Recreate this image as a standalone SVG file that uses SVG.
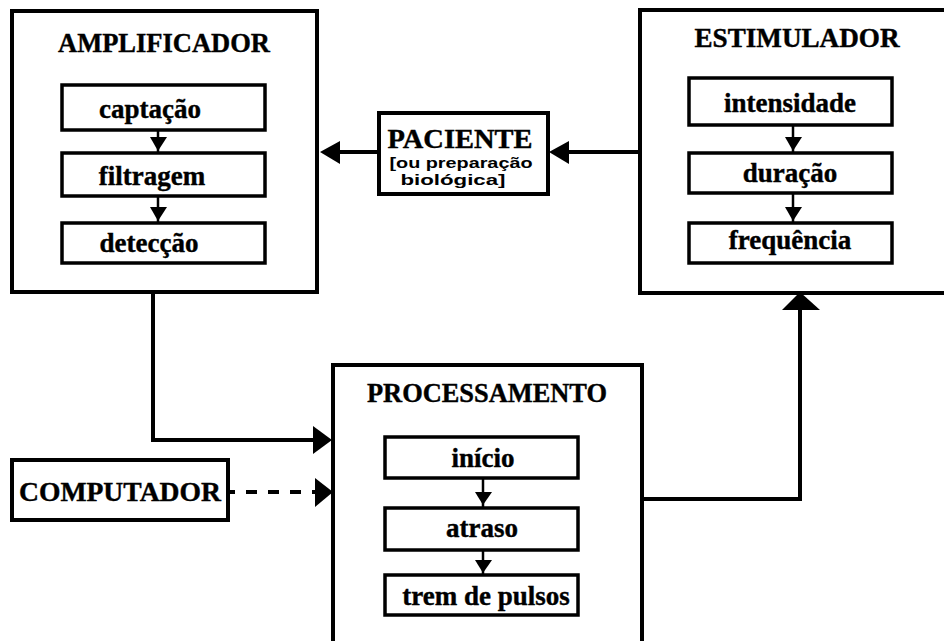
<svg xmlns="http://www.w3.org/2000/svg" width="944" height="641" viewBox="0 0 944 641">
<style>
.outer{fill:#fff;stroke:#000;stroke-width:4}
.inner{fill:#fff;stroke:#000;stroke-width:3.5}
.title{font-family:"Liberation Serif","Times New Roman",serif;font-weight:bold;font-size:27px;text-anchor:middle;fill:#000;stroke:#000;stroke-width:0.4}
.lab{font-family:"Liberation Serif","Times New Roman",serif;font-weight:bold;font-size:27px;text-anchor:middle;fill:#000;stroke:#000;stroke-width:0.4}
.sans{font-family:"Liberation Sans",Arial,sans-serif;font-weight:bold;font-size:15px;text-anchor:middle;fill:#000}
.ln{fill:none;stroke:#000;stroke-width:4}
.sl{fill:none;stroke:#000;stroke-width:2.5}
.ah{fill:#000}
</style>
<rect width="944" height="641" fill="#fff"/>
<g id="amplificador">
<rect class="outer" x="12" y="11" width="305" height="281"/>
<text class="title" x="164" y="52" textLength="212" lengthAdjust="spacingAndGlyphs">AMPLIFICADOR</text>
<rect class="inner" x="62" y="85" width="203" height="45"/>
<text class="lab" x="150" y="118">captação</text>
<rect class="inner" x="62" y="153" width="203" height="43"/>
<text class="lab" x="152" y="185">filtragem</text>
<rect class="inner" x="62" y="223" width="203" height="40"/>
<text class="lab" x="149" y="252">detecção</text>
<line class="sl" x1="158" y1="130" x2="158" y2="153"/>
<polygon class="ah" points="150,137 167,137 158,151"/>
<line class="sl" x1="158" y1="196" x2="158" y2="223"/>
<polygon class="ah" points="150,207 167,207 158,221"/>
</g>
<g id="estimulador">
<rect class="outer" x="640" y="10" width="310" height="283"/>
<text class="title" x="797" y="47" textLength="205" lengthAdjust="spacingAndGlyphs">ESTIMULADOR</text>
<rect class="inner" x="689" y="78" width="203" height="47"/>
<text class="lab" x="790" y="112">intensidade</text>
<rect class="inner" x="689" y="153" width="203" height="40"/>
<text class="lab" x="790" y="182">duração</text>
<rect class="inner" x="689" y="223" width="203" height="40"/>
<text class="lab" x="790" y="249">frequência</text>
<line class="sl" x1="793" y1="125" x2="793" y2="153"/>
<polygon class="ah" points="785,137 802,137 793,151"/>
<line class="sl" x1="793" y1="193" x2="793" y2="223"/>
<polygon class="ah" points="785,207 802,207 793,221"/>
</g>
<g id="paciente">
<rect class="outer" x="379" y="113" width="169" height="81"/>
<text class="title" x="460" y="148" font-size="26" textLength="145" lengthAdjust="spacingAndGlyphs">PACIENTE</text>
<text class="sans" x="461" y="168" textLength="143" lengthAdjust="spacingAndGlyphs">[ou preparação</text>
<text class="sans" x="453" y="185" textLength="105" lengthAdjust="spacingAndGlyphs">biológica]</text>
</g>
<g id="processamento">
<rect class="outer" x="333" y="365" width="309" height="290"/>
<text class="title" x="487" y="402" textLength="240" lengthAdjust="spacingAndGlyphs">PROCESSAMENTO</text>
<rect class="inner" x="385" y="437" width="193" height="41"/>
<text class="lab" x="483" y="467">início</text>
<rect class="inner" x="385" y="508" width="193" height="42"/>
<text class="lab" x="482" y="537">atraso</text>
<rect class="inner" x="385" y="575" width="193" height="40"/>
<text class="lab" x="486" y="605">trem de pulsos</text>
<line class="sl" x1="483" y1="478" x2="483" y2="508"/>
<polygon class="ah" points="475,492 492,492 483,505"/>
<line class="sl" x1="483" y1="550" x2="483" y2="575"/>
<polygon class="ah" points="475,560 492,560 483,573"/>
</g>
<g id="computador">
<rect class="outer" x="12" y="460" width="216" height="60"/>
<text class="title" x="120" y="501" textLength="202" lengthAdjust="spacingAndGlyphs">COMPUTADOR</text>
</g>
<g id="connectors">
<line class="ln" x1="640" y1="152" x2="566" y2="152"/>
<polygon class="ah" points="549,152 569,141 569,164"/>
<line class="ln" x1="379" y1="152" x2="338" y2="152"/>
<polygon class="ah" points="320,152 340,141 340,164"/>
<polyline class="ln" points="153,292 153,440 315,440"/>
<polygon class="ah" points="332,440 313,426 313,454"/>
<line class="ln" x1="230" y1="492" x2="316" y2="492" stroke-dasharray="11 11" stroke-dashoffset="6"/>
<polygon class="ah" points="333,492 315,478 315,507"/>
<polyline class="ln" points="642,499 800,499 800,308"/>
<polygon class="ah" points="800,292 782,310 820,310"/>
</g>
</svg>
